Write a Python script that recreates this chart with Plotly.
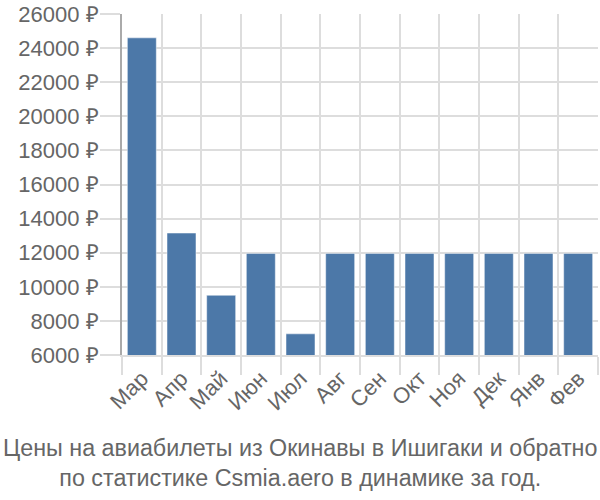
import plotly.graph_objects as go

months = ["Мар", "Апр", "Май", "Июн", "Июл", "Авг", "Сен", "Окт", "Ноя", "Дек", "Янв", "Фев"]
prices = [24600, 13150, 9500, 11960, 7240, 11960, 11960, 11960, 11960, 11960, 11960, 11960]
y_ticks = [6000, 8000, 10000, 12000, 14000, 16000, 18000, 20000, 22000, 24000, 26000]
title_lines = ["Цены на авиабилеты из Окинавы в Ишигаки и обратно",
               "по статистике Csmia.aero в динамике за год."]

FONT = "Liberation Sans, Arial, sans-serif"
TXT = "#666666"
GRID = "#dddddd"

fig = go.Figure(go.Bar(
    x=months, y=prices,
    marker=dict(color="#4c78a8", line=dict(color="rgba(255,255,255,0.45)", width=1)),
))

fig.update_layout(
    width=600, height=500,
    margin=dict(l=122, r=2, t=14, b=145),
    paper_bgcolor="white", plot_bgcolor="white",
    bargap=0.27,
    showlegend=False,
    font=dict(family=FONT, color=TXT),
)
fig.update_xaxes(
    type="category", tickson="boundaries",
    showgrid=True, gridcolor=GRID, gridwidth=2,
    ticks="outside", ticklen=18, tickcolor=GRID, tickwidth=2,
    tickangle=-45, tickfont=dict(size=22, color=TXT, family=FONT),
    showline=True, linecolor=GRID, linewidth=2,
)
fig.update_yaxes(
    range=[6000, 26000], tickvals=y_ticks,
    ticktext=[f"{v} ₽" for v in y_ticks],
    showgrid=True, gridcolor=GRID, gridwidth=2,
    ticks="outside", ticklen=20, tickcolor=GRID, tickwidth=2,
    ticklabelstandoff=-3,
    tickfont=dict(size=22, color=TXT, family=FONT),
    showline=True, linecolor="#aaaaaa", linewidth=2,
    zeroline=False,
)
fig.add_annotation(
    text="<br>".join(title_lines), xref="paper", yref="paper",
    x=(300 - 122) / 476, xanchor="center", y=0, yanchor="top", yshift=-78,
    showarrow=False, font=dict(size=23.3, color=TXT, family=FONT),
)

fig.write_html("out.html")
